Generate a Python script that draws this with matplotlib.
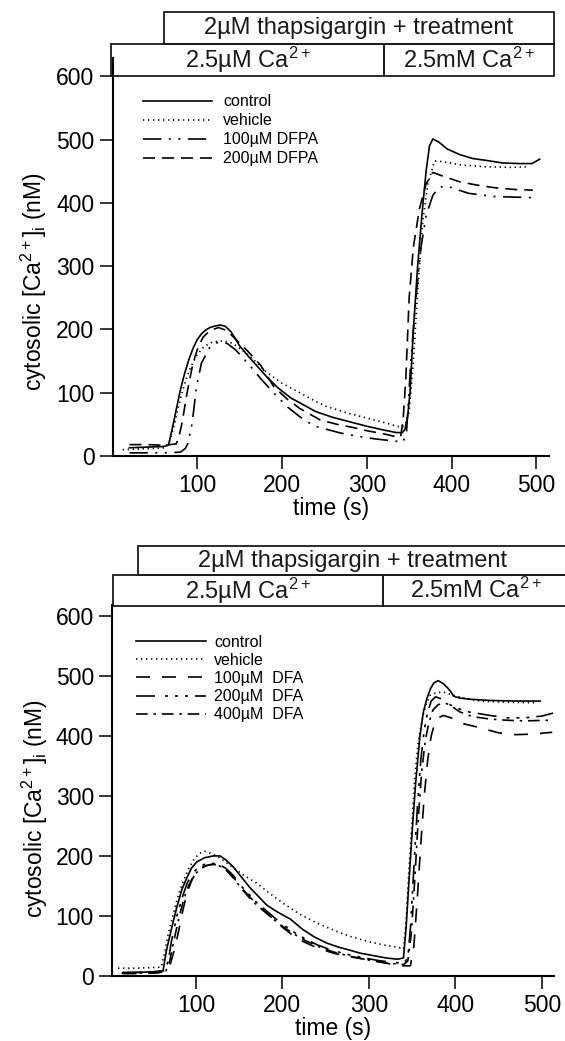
import matplotlib
matplotlib.use("Agg")
import matplotlib.pyplot as plt
from matplotlib.patches import Rectangle

plt.rcParams["font.family"] = ["Liberation Sans", "DejaVu Sans"]
plt.rcParams["mathtext.fontset"] = "custom"
plt.rcParams["mathtext.rm"] = "Liberation Sans"
plt.rcParams["mathtext.it"] = "Liberation Sans:italic"
plt.rcParams["mathtext.bf"] = "Liberation Sans:bold"

W, H = 565, 1041

# ---------------- top panel: DFPA ----------------
top_labels = ["control", "vehicle", "100µM DFPA", "200µM DFPA"]

top_ctrl_t = [20, 40, 60, 66, 70, 75, 80, 85, 90, 95, 100, 105, 110, 115, 120, 127, 133, 140, 150, 160,
              170, 182, 195, 210, 221, 240, 260, 280, 300, 320, 335, 342, 345, 348, 351, 355, 360, 365,
              370, 374, 378, 385, 395, 410, 425, 441, 460, 480, 495, 504]
top_ctrl_v = [13, 14, 15, 17, 40, 72, 104, 130, 152, 170, 184, 193, 199, 203, 205, 207, 205, 196, 174, 158,
              143, 125, 108, 92, 84, 70, 61, 54, 47, 41, 37, 37, 42, 60, 100, 200, 300, 380,
              450, 490, 501, 496, 485, 476, 470, 467, 463, 462, 462, 469]

top_veh_t = [12, 30, 50, 62, 68, 74, 80, 86, 92, 100, 108, 118, 130, 142, 155, 170, 182, 200, 221, 240,
             253, 277, 300, 320, 339, 345, 350, 355, 360, 366, 372, 380, 390, 410, 440, 470, 492]
top_veh_v = [10, 11, 12, 13, 25, 55, 90, 118, 140, 160, 173, 180, 182, 178, 165, 148, 132, 115, 100, 86,
             78, 68, 60, 53, 46, 48, 70, 150, 260, 370, 430, 466, 465, 460, 457, 456, 457]

top_d100_t = [20, 40, 60, 80, 86, 89, 94, 99, 105, 115, 125, 135, 145, 154, 165, 175, 190, 206, 221, 237,
              253, 270, 290, 310, 330, 343, 347, 352, 358, 364, 370, 378, 385, 393, 400, 420, 450, 475, 496]
top_d100_v = [5, 5, 5, 6, 12, 20, 52, 109, 147, 172, 180, 178, 168, 155, 138, 122, 100, 78, 62, 48,
              42, 36, 31, 27, 24, 22, 40, 150, 250, 330, 380, 412, 424, 427, 424, 415, 410, 409, 408]

top_d200_t = [20, 40, 60, 75, 78, 82, 88, 95, 101, 107, 115, 125, 135, 145, 160, 175, 190, 206, 221, 245,
              265, 284, 300, 320, 336, 340, 343, 346, 350, 355, 362, 370, 378, 390, 410, 430, 450, 475, 496]
top_d200_v = [18, 18, 17, 19, 28, 52, 100, 147, 172, 188, 198, 203, 198, 185, 165, 143, 110, 90, 75, 57,
              50, 45, 40, 35, 30, 30, 60, 120, 250, 330, 390, 430, 448, 442, 433, 428, 424, 421, 420]

# ---------------- bottom panel: DFA ----------------
bot_labels = ["control", "vehicle", "100µM  DFA", "200µM  DFA", "400µM  DFA"]

bot_ctrl_t = [15, 30, 50, 62, 66, 72, 78, 84, 90, 95, 101, 110, 120, 128, 135, 143, 152, 162, 172, 182,
              195, 209, 224, 237, 251, 265, 278, 290, 305, 320, 333, 340, 343, 346, 350, 354, 359, 363,
              367, 371, 375, 380, 386, 391, 395, 398, 405, 417, 440, 470, 498]
bot_ctrl_v = [5, 6, 7, 9, 43, 80, 115, 145, 165, 180, 190, 197, 200, 200, 193, 182, 166, 148, 133, 118,
              106, 95, 77, 65, 55, 48, 43, 38, 34, 30, 28, 30, 80, 150, 240, 320, 400, 440,
              462, 478, 488, 492, 487, 480, 473, 466, 463, 461, 459, 458, 458]

bot_veh_t = [10, 30, 50, 60, 64, 68, 72, 76, 80, 86, 92, 98, 104, 110, 116, 124, 132, 142, 155, 170,
             185, 201, 220, 240, 260, 278, 300, 320, 336, 340, 343, 346, 350, 353, 357, 362, 366, 371,
             378, 386, 397, 410, 428, 460, 494]
bot_veh_v = [13, 13, 14, 15, 40, 70, 93, 115, 137, 160, 180, 195, 204, 208, 205, 200, 192, 182, 168, 155,
             138, 121, 103, 88, 76, 66, 57, 51, 47, 45, 90, 170, 260, 330, 390, 430, 452, 468,
             472, 473, 468, 463, 458, 456, 455]

bot_d100_t = [15, 35, 55, 66, 70, 76, 80, 85, 90, 96, 102, 110, 118, 126, 134, 143, 151, 160, 170, 178,
              190, 201, 210, 220, 240, 259, 278, 295, 310, 325, 340, 348, 352, 356, 360, 364, 368, 372,
              376, 380, 386, 395, 410, 430, 450, 470, 490, 512]
bot_d100_v = [4, 4, 5, 8, 18, 48, 75, 110, 140, 162, 175, 183, 186, 185, 178, 165, 150, 135, 120, 110,
              94, 80, 70, 60, 47, 38, 32, 28, 24, 20, 17, 17, 50, 130, 220, 300, 360, 400,
              420, 430, 434, 430, 420, 413, 405, 402, 403, 406]

bot_d200_t = [15, 35, 55, 64, 68, 72, 78, 84, 90, 96, 102, 110, 118, 126, 134, 143, 151, 162, 172, 182,
              195, 210, 225, 240, 259, 278, 295, 310, 325, 340, 345, 348, 352, 356, 360, 364, 368, 372,
              377, 383, 390, 400, 415, 440, 460, 480, 500, 513]
bot_d200_v = [6, 6, 7, 9, 25, 60, 100, 130, 155, 170, 180, 186, 188, 186, 180, 168, 152, 135, 120, 108,
              92, 76, 63, 52, 42, 35, 30, 26, 23, 21, 30, 80, 180, 280, 360, 410, 440, 458,
              465, 462, 455, 447, 440, 434, 430, 430, 433, 438]

bot_d400_t = [15, 35, 55, 65, 69, 74, 80, 86, 92, 98, 105, 112, 120, 128, 136, 144, 152, 162, 172, 182,
              195, 210, 225, 240, 259, 278, 295, 310, 325, 340, 345, 349, 353, 357, 361, 365, 369, 374,
              380, 388, 395, 405, 420, 440, 460, 480, 507]
bot_d400_v = [5, 5, 6, 8, 20, 55, 95, 128, 152, 168, 178, 184, 186, 183, 175, 162, 147, 130, 116, 104,
              88, 73, 60, 50, 40, 33, 28, 24, 21, 19, 25, 70, 160, 260, 340, 390, 420, 443,
              452, 455, 450, 440, 432, 428, 426, 425, 426]

yticks = [0, 100, 200, 300, 400, 500, 600]
xticks = [100, 200, 300, 400, 500]

LW = 1.2
st_solid = "-"
st_dot = (0, (0.8, 2.2))
st_dash = (0, (7.2, 4.2))
st_dadodo = (0, (11, 4.5, 1.2, 4.5, 1.2, 4.5))
st_dash2 = (0, (8.4, 7.2))
st_da3do = (0, (11.4, 6, 1.8, 4.2, 1.8, 4.2, 1.8, 4.2))
st_dado = (0, (7, 3.5, 1.5, 3.5))


def px_axes(fig, x0, x1, y0, y1):
    return fig.add_axes([x0 / W, (H - y1) / H, (x1 - x0) / W, (y1 - y0) / H])


def style_axes(ax):
    for s in ("top", "right"):
        ax.spines[s].set_visible(False)
    for s in ("left", "bottom"):
        ax.spines[s].set_linewidth(1.5)
    ax.set_yticks(yticks)
    ax.set_xticks(xticks)
    ax.tick_params(direction="out", length=9.5, width=1.1, labelsize=16.5, pad=3.5)
    ax.set_xlabel("time (s)", fontsize=16.5, labelpad=0)
    ax.set_ylabel("cytosolic [Ca$^{2+}$]$_{\\mathrm{i}}$ (nM)", fontsize=16.5)


def fig_box(fig, x0, x1, y0, y1, text):
    fig.patches.append(Rectangle((x0 / W, (H - y1) / H), (x1 - x0) / W, (y1 - y0) / H,
                                 transform=fig.transFigure, fill=False,
                                 edgecolor="#1a1a1a", linewidth=1.3))
    fig.text((x0 + x1) / 2 / W, (H - (y0 + y1) / 2) / H, text, ha="center", va="center",
             fontsize=17, color="#1a1a1a")


fig = plt.figure(figsize=(W / 100, H / 100), dpi=100, facecolor="white")

# top panel
ax1 = px_axes(fig, 112.5, 549, 58.5, 456)
ax1.plot(top_ctrl_t, top_ctrl_v, color="black", lw=LW, ls=st_solid, label=top_labels[0])
ax1.plot(top_veh_t, top_veh_v, color="black", lw=LW, ls=st_dot, label=top_labels[1])
ax1.plot(top_d100_t, top_d100_v, color="black", lw=LW, ls=st_dadodo, label=top_labels[2])
ax1.plot(top_d200_t, top_d200_v, color="black", lw=LW, ls=st_dash, label=top_labels[3])
ax1.set_xlim(0, 515)
ax1.set_ylim(0, 628)
style_axes(ax1)
ax1.yaxis.set_label_coords(-0.145, 0.44)
ax1.legend(loc="upper left", bbox_to_anchor=(0.07, 0.91), frameon=False, fontsize=11.5,
           handlelength=4.3, handletextpad=0.7, labelspacing=0.25, borderpad=0, borderaxespad=0)

fig_box(fig, 164, 554, 12, 44, "2µM thapsigargin + treatment")
fig_box(fig, 111, 384, 44, 76, "2.5µM Ca$^{2+}$")
fig_box(fig, 384, 554, 44, 76, "2.5mM Ca$^{2+}$")

# bottom panel
ax2 = px_axes(fig, 112, 554, 605, 976)
ax2.plot(bot_ctrl_t, bot_ctrl_v, color="black", lw=LW, ls=st_solid, label=bot_labels[0])
ax2.plot(bot_veh_t, bot_veh_v, color="black", lw=LW, ls=st_dot, label=bot_labels[1])
ax2.plot(bot_d100_t, bot_d100_v, color="black", lw=LW, ls=st_dash2, label=bot_labels[2])
ax2.plot(bot_d200_t, bot_d200_v, color="black", lw=LW, ls=st_da3do, label=bot_labels[3])
ax2.plot(bot_d400_t, bot_d400_v, color="black", lw=LW, ls=st_dado, label=bot_labels[4])
ax2.set_xlim(3, 514)
ax2.set_ylim(0, 618)
style_axes(ax2)
ax2.yaxis.set_label_coords(-0.14, 0.45)
ax2.legend(loc="upper left", bbox_to_anchor=(0.054, 0.92), frameon=False, fontsize=11.5,
           handlelength=4.4, handletextpad=0.5, labelspacing=0.2, borderpad=0, borderaxespad=0)

fig_box(fig, 138, 568, 546, 575, "2µM thapsigargin + treatment")
fig_box(fig, 113, 383, 575, 606, "2.5µM Ca$^{2+}$")
fig_box(fig, 383, 568, 575, 606, "2.5mM Ca$^{2+}$")

fig.savefig("out.png", dpi=100, facecolor="white")
